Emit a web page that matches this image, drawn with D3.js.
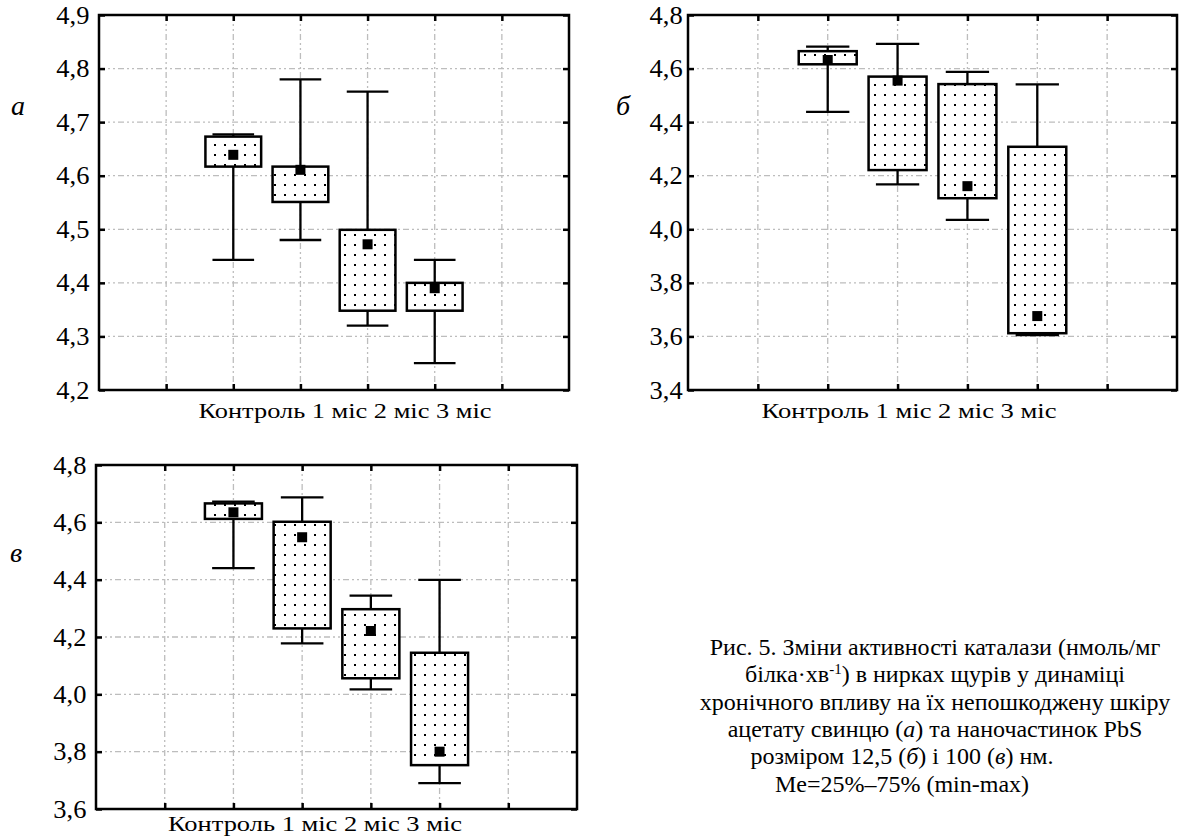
<!DOCTYPE html>
<html>
<head>
<meta charset="utf-8">
<script src="https://cdn.jsdelivr.net/npm/d3@7"></script>
<style>
body { margin: 0; background: #fff; }
svg { display: block; font-family: "Liberation Serif", "Times New Roman", serif; }
</style>
</head>
<body>
<svg id="chart" width="1179" height="836"></svg>
<script>
const categories = ["Контроль", "1 міс", "2 міс", "3 міс"];

// panel а
const minA = [4.443, 4.480, 4.320, 4.250];
const q1A = [4.617, 4.551, 4.348, 4.348];
const medA = [4.639, 4.611, 4.472, 4.390];
const q3A = [4.673, 4.617, 4.499, 4.400];
const maxA = [4.677, 4.780, 4.757, 4.443];
const ticksA = [4.2, 4.3, 4.4, 4.5, 4.6, 4.7, 4.8, 4.9];

// panel б
const minB = [4.438, 4.168, 4.035, 3.605];
const q1B = [4.616, 4.221, 4.116, 3.612];
const medB = [4.632, 4.555, 4.161, 3.676];
const q3B = [4.665, 4.570, 4.542, 4.308];
const maxB = [4.682, 4.692, 4.588, 4.541];
const ticksB = [3.4, 3.6, 3.8, 4.0, 4.2, 4.4, 4.6, 4.8];

// panel в
const minC = [4.440, 4.178, 4.017, 3.690];
const q1C = [4.612, 4.230, 4.056, 3.753];
const medC = [4.635, 4.548, 4.221, 3.800];
const q3C = [4.666, 4.602, 4.297, 4.145];
const maxC = [4.672, 4.687, 4.344, 4.399];
const ticksC = [3.6, 3.8, 4.0, 4.2, 4.4, 4.6, 4.8];

// *..* = italic, ^..^ = superscript
const captionLines = [
    "Рис. 5. Зміни активності каталази (нмоль/мг",
    "білка·хв^-1^) в нирках щурів у динаміці",
    "хронічного впливу на їх непошкоджену шкіру",
    "ацетату свинцю (*а*) та наночастинок PbS",
    "розміром 12,5 (*б*) і 100 (*в*) нм.",
    "Me=25%–75% (min-max)"
];

const svg = d3.select("#chart");
const fmt = d3.formatLocale({ decimal: ",", thousands: " ", grouping: [3], currency: ["", ""] }).format(".1f");

const defs = svg.append("defs");
const pat = defs.append("pattern")
    .attr("id", "dots")
    .attr("patternUnits", "userSpaceOnUse")
    .attr("width", 10)
    .attr("height", 10);
pat.append("rect").attr("width", 10).attr("height", 10).attr("fill", "#fff");
pat.append("rect").attr("x", 4).attr("y", 4).attr("width", 2).attr("height", 2).attr("fill", "#000");

function drawPanel(p) {
    const g = svg.append("g");
    const slots = 7;
    const x = d3.scaleLinear().domain([0, slots]).range([p.left, p.right]);
    const y = d3.scaleLinear()
        .domain([p.ticks[0], p.ticks[p.ticks.length - 1]])
        .range([p.bottom, p.top]);
    const slotW = x(1) - x(0);

    // grid
    g.append("g").selectAll("line")
        .data(p.ticks.slice(1, -1))
        .join("line")
        .attr("x1", p.left).attr("x2", p.right)
        .attr("y1", d => y(d)).attr("y2", d => y(d))
        .attr("stroke", "#bdbdbd").attr("stroke-width", 1.3)
        .attr("stroke-dasharray", "6,3,2,3,2,3");
    g.append("g").selectAll("line")
        .data(d3.range(1, slots))
        .join("line")
        .attr("x1", d => x(d)).attr("x2", d => x(d))
        .attr("y1", p.top).attr("y2", p.bottom)
        .attr("stroke", "#bdbdbd").attr("stroke-width", 1.3)
        .attr("stroke-dasharray", "6,3,2,3,2,3");

    // inner ticks on all four sides
    const tickStyle = sel => {
        sel.select(".domain").remove();
        sel.selectAll(".tick line").attr("stroke", "#000").attr("stroke-width", 2.5);
    };
    g.append("g").attr("transform", `translate(${p.left},0)`)
        .call(d3.axisLeft(y).tickValues(p.ticks).tickSize(-6).tickPadding(0).tickFormat(fmt))
        .call(tickStyle)
        .call(s => s.selectAll("text")
            .attr("x", -p.pad)
            .attr("font-family", "Liberation Serif")
            .attr("font-size", 25)
            .attr("fill", "#000")
            .attr("transform", "scale(1.06,1)"));
    g.append("g").attr("transform", `translate(${p.right},0)`)
        .call(d3.axisRight(y).tickValues(p.ticks).tickSize(-6).tickFormat(""))
        .call(tickStyle);
    g.append("g").attr("transform", `translate(0,${p.bottom})`)
        .call(d3.axisBottom(x).tickValues(d3.range(1, slots)).tickSize(-6).tickFormat(""))
        .call(tickStyle);
    g.append("g").attr("transform", `translate(0,${p.top})`)
        .call(d3.axisTop(x).tickValues(d3.range(1, slots)).tickSize(-6).tickFormat(""))
        .call(tickStyle);

    // frame
    g.append("rect")
        .attr("x", p.left).attr("y", p.top)
        .attr("width", p.right - p.left).attr("height", p.bottom - p.top)
        .attr("fill", "none").attr("stroke", "#000").attr("stroke-width", 2.5);

    const rows = categories.map((c, i) => ({
        pos: i + 2, min: p.mins[i], q1: p.q1s[i], med: p.meds[i], q3: p.q3s[i], max: p.maxs[i]
    }));
    const boxW = slotW * 0.83, capW = slotW * 0.62, mk = 10;

    const box = g.append("g").selectAll("g").data(rows).join("g");
    box.append("line")
        .attr("x1", d => x(d.pos)).attr("x2", d => x(d.pos))
        .attr("y1", d => y(d.min)).attr("y2", d => y(d.max))
        .attr("stroke", "#000").attr("stroke-width", 2.3);
    box.append("line")
        .attr("x1", d => x(d.pos) - capW / 2).attr("x2", d => x(d.pos) + capW / 2)
        .attr("y1", d => y(d.min)).attr("y2", d => y(d.min))
        .attr("stroke", "#000").attr("stroke-width", 2.3);
    box.append("line")
        .attr("x1", d => x(d.pos) - capW / 2).attr("x2", d => x(d.pos) + capW / 2)
        .attr("y1", d => y(d.max)).attr("y2", d => y(d.max))
        .attr("stroke", "#000").attr("stroke-width", 2.3);
    box.append("rect")
        .attr("x", d => x(d.pos) - boxW / 2)
        .attr("y", d => y(d.q3))
        .attr("width", boxW)
        .attr("height", d => y(d.q1) - y(d.q3))
        .attr("fill", "url(#dots)")
        .attr("stroke", "#000").attr("stroke-width", 2.5);
    box.append("rect")
        .attr("x", d => x(d.pos) - mk / 2)
        .attr("y", d => y(d.med) - mk / 2)
        .attr("width", mk).attr("height", mk)
        .attr("fill", "#000");

    // category label line
    g.append("text")
        .attr("x", p.labelX).attr("y", p.labelY)
        .attr("text-anchor", "middle")
        .attr("font-size", 22)
        .attr("textLength", p.labelW).attr("lengthAdjust", "spacingAndGlyphs")
        .text(categories.join(" ").replace(/ (\d)/g, "  $1"));

    // panel letter
    g.append("text")
        .attr("x", p.nameX).attr("y", p.nameY)
        .attr("font-size", 28).attr("font-style", "italic")
        .text(p.name);
}

drawPanel({ left: 99, right: 569, top: 15, bottom: 390, ticks: ticksA, pad: 9,
    mins: minA, q1s: q1A, meds: medA, q3s: q3A, maxs: maxA,
    labelX: 345, labelY: 418, labelW: 293, name: "а", nameX: 11, nameY: 115 });
drawPanel({ left: 688, right: 1177, top: 15, bottom: 390, ticks: ticksB, pad: 5,
    mins: minB, q1s: q1B, meds: medB, q3s: q3B, maxs: maxB,
    labelX: 909, labelY: 418, labelW: 295, name: "б", nameX: 616, nameY: 115 });
drawPanel({ left: 96, right: 577, top: 465, bottom: 809, ticks: ticksC, pad: 9,
    mins: minC, q1s: q1C, meds: medC, q3s: q3C, maxs: maxC,
    labelX: 315, labelY: 831, labelW: 294, name: "в", nameX: 10, nameY: 562 });

// caption
const cap = svg.append("g").attr("font-size", 24).attr("fill", "#000");
captionLines.forEach((line, i) => {
    const t = cap.append("text")
        .attr("x", i < 4 ? 935 : 902)
        .attr("y", 655 + i * 27.3)
        .attr("text-anchor", "middle");
    line.split(/(\*[^*]+\*|\^[^^]+\^)/).filter(s => s.length).forEach(s => {
        if (s[0] === "*") t.append("tspan").attr("font-style", "italic").text(s.slice(1, -1));
        else if (s[0] === "^") t.append("tspan").attr("font-size", 15).attr("baseline-shift", "super").text(s.slice(1, -1));
        else t.append("tspan").text(s);
    });
});
</script>
</body>
</html>
